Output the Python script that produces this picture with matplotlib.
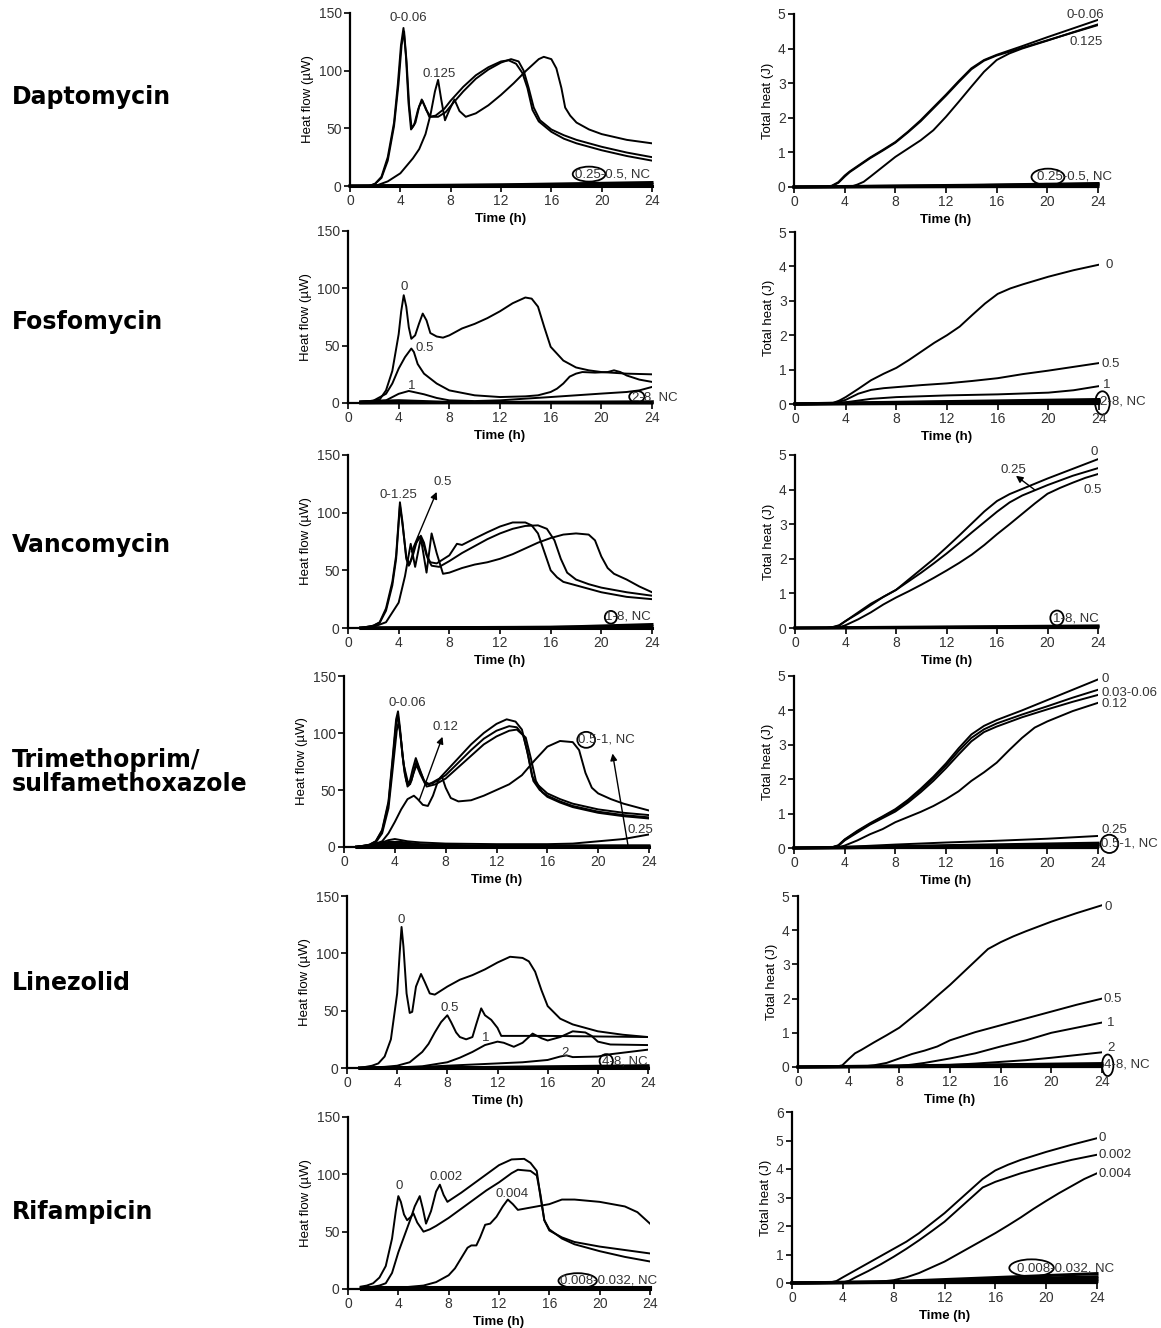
import matplotlib
matplotlib.use('Agg')
import matplotlib.pyplot as plt
from matplotlib.patches import Ellipse

plt.rcParams['font.family'] = ['Liberation Sans', 'DejaVu Sans']

W, H = 1161, 1328

drugs = ['Daptomycin', 'Fosfomycin', 'Vancomycin',
         'Trimethoprim/\nsulfamethoxazole', 'Linezolid', 'Rifampicin']
time_ticks = [0, 4, 8, 12, 16, 20, 24]

# ---- Daptomycin ----
dap_hf_1 = [(0,0),(1.5,0),(2,2),(2.5,8),(3,25),(3.5,55),(3.8,88),(4.05,122),(4.25,137),(4.45,112),(4.65,72),(4.85,49),(5.1,53),(5.4,66),(5.7,75),(6.0,68),(6.3,60),(6.8,61),(7.5,67),(8,74),(9,86),(10,96),(11,103),(12,108),(12.6,109),(13.2,106),(13.7,98),(14.1,85),(14.5,66),(15,56),(16,47),(17,41),(18,37),(20,31),(22,26),(24,22)]
dap_hf_2 = [(0,0),(1.6,0),(2,2),(2.5,7),(3,22),(3.5,52),(3.85,88),(4.1,122),(4.3,134),(4.5,107),(4.7,70),(4.9,50),(5.2,55),(5.5,69),(5.75,74),(6.05,66),(6.4,60),(7.0,60),(7.6,64),(8.2,72),(9,82),(10,93),(11,101),(12,107),(12.8,110),(13.4,108),(13.8,100),(14.2,85),(14.6,68),(15.1,57),(16,49),(17,44),(18,40),(20,34),(22,29),(24,25)]
dap_hf_0125 = [(0,0),(2,0),(3,4),(4,11),(5,24),(5.5,32),(6,45),(6.4,62),(6.75,82),(7.0,92),(7.25,75),(7.55,57),(7.9,66),(8.3,75),(8.7,65),(9.2,60),(10,63),(11,70),(12,79),(13,89),(14,100),(15,110),(15.4,112),(16,110),(16.4,102),(16.8,85),(17.1,68),(17.5,61),(18,55),(19,49),(20,45),(22,40),(24,37)]
dap_hf_low = [[(0,0),(24,0)], [(0,0),(10,0.5),(24,1.5)], [(0,0),(12,1),(24,3)]]
dap_th_1 = [(0,0),(2.5,0),(3,0.04),(3.5,0.14),(4,0.33),(4.4,0.45),(5,0.6),(6,0.85),(7,1.07),(8,1.3),(9,1.6),(10,1.93),(11,2.3),(12,2.67),(13,3.06),(14,3.43),(15,3.67),(16,3.82),(18,4.07),(20,4.33),(22,4.58),(24,4.83)]
dap_th_2 = [(0,0),(2.6,0),(3,0.03),(3.5,0.12),(4,0.3),(4.4,0.43),(5,0.58),(6,0.83),(7,1.05),(8,1.28),(9,1.58),(10,1.9),(11,2.27),(12,2.64),(13,3.03),(14,3.4),(15,3.65),(16,3.8),(18,4.02),(20,4.24),(22,4.46),(24,4.68)]
dap_th_0125 = [(0,0),(4,0),(4.5,0.01),(5,0.07),(5.5,0.15),(6,0.29),(7,0.58),(8,0.87),(9,1.11),(10,1.35),(11,1.64),(12,2.03),(13,2.46),(14,2.9),(15,3.33),(16,3.67),(17,3.86),(18,4.0),(20,4.23),(22,4.47),(24,4.7)]
dap_th_low = [[(0,0),(24,0.02)], [(0,0),(12,0.03),(24,0.08)], [(0,0),(14,0.05),(24,0.1)]]

# ---- Fosfomycin ----
fos_hf_0 = [(1,1),(2,2),(2.5,3),(3,11),(3.5,28),(4,60),(4.2,80),(4.4,94),(4.6,84),(4.8,66),(5.0,56),(5.3,59),(5.6,69),(5.9,78),(6.2,72),(6.5,61),(7,58),(7.5,57),(8,59),(9,65),(10,69),(11,74),(12,80),(13,87),(14,92),(14.5,91),(15,84),(15.5,66),(16,49),(17,37),(18,31),(19,28.5),(20,27),(22,25.6),(24,25)]
fos_hf_05 = [(1,1),(2,2),(3,8),(3.5,17),(4,30),(4.5,40),(5,47.5),(5.2,44.5),(5.5,34),(6,25.6),(7,17),(8,11),(10,6.7),(12,5.2),(14,5.8),(15,6.7),(16,9.6),(16.5,12.5),(17,17),(17.5,23),(18,25.6),(18.5,27),(19.5,26.5),(20.5,27),(21,28.5),(21.5,27),(22,24),(23,20.4),(24,18.4)]
fos_hf_1 = [(1,1),(2,1.5),(3,2.3),(4,8),(4.8,10.5),(6,7.6),(7,4.4),(8,2.3),(10,1.7),(12,2.3),(14,3.8),(16,5.2),(18,6.7),(20,8.2),(22,9.6),(23,11),(24,14)]
fos_hf_low = [[(1,1),(4,2),(8,0.5),(24,0.5)], [(1,0.5),(24,0)], [(1,0),(24,1)]]
fos_th_0 = [(0,0),(2.5,0),(3,0.03),(3.5,0.1),(4,0.2),(5,0.44),(6,0.69),(7,0.88),(8,1.05),(9,1.28),(10,1.53),(11,1.78),(12,2.0),(13,2.25),(14,2.59),(15,2.92),(16,3.2),(17,3.36),(18,3.48),(20,3.7),(22,3.89),(24,4.05)]
fos_th_05 = [(0,0),(2.5,0),(3,0.02),(4,0.12),(5,0.3),(6,0.41),(7,0.46),(8,0.49),(10,0.55),(12,0.6),(14,0.67),(16,0.75),(18,0.87),(20,0.97),(22,1.08),(24,1.19)]
fos_th_1 = [(0,0),(3,0),(4,0.05),(5,0.1),(6,0.15),(8,0.2),(12,0.25),(16,0.28),(20,0.33),(22,0.4),(24,0.52)]
fos_th_low = [[(0,0),(4,0.03),(24,0.13)], [(0,0),(4,0.02),(24,0.1)], [(0,0),(24,0.07)], [(0,0),(24,0.04)]]

# ---- Vancomycin ----
van_hf_1 = [(1,0),(2,2),(2.5,5),(3,17),(3.5,40),(3.8,63),(4.1,109),(4.3,92),(4.6,60),(4.8,54),(5.0,60),(5.3,72),(5.6,79),(5.9,75),(6.2,63),(6.5,57),(7,56),(8,63),(8.6,73),(9,72),(10,77.6),(11,83),(12,88),(13,91.5),(14,91.5),(14.5,89),(15,82),(15.5,66),(16,50),(16.5,44),(17,40),(18,37),(20,31),(22,27),(24,25)]
van_hf_2 = [(1,0),(2,2),(2.5,4.5),(3,15),(3.5,37),(3.8,60),(4.1,106),(4.3,90),(4.6,62),(4.85,55),(5.1,62),(5.4,74),(5.75,80),(6.0,74),(6.3,60),(6.6,54),(7.2,53),(8,58),(9,65),(10,71),(11,77),(12,82),(13,86),(14,88.5),(15,89),(15.7,86),(16.3,76),(16.8,60),(17.3,48),(18,42),(19,38),(20,35),(22,31),(24,28)]
van_hf_05 = [(1,0),(2,1),(3,5),(4,22),(4.5,45),(4.95,73),(5.3,53),(5.75,78),(6.2,48),(6.6,82),(7.0,65),(7.5,47),(8,48),(9,52),(10,55),(11,57),(12,60),(13,64),(14,69),(15,74),(16,78),(17,81),(18,82),(19,81),(19.5,76),(20,62),(20.5,52),(21,47),(22,42),(23,36),(24,31)]
van_hf_low = [[(1,0),(24,0)], [(1,0),(16,0.5),(24,3)], [(1,0),(24,1)]]
van_th_0 = [(0,0),(2.5,0),(3,0.03),(3.5,0.08),(4,0.2),(5,0.45),(6,0.7),(7,0.9),(8,1.1),(9,1.4),(10,1.7),(11,2.0),(12,2.33),(13,2.67),(14,3.02),(15,3.37),(16,3.67),(17,3.87),(18,4.02),(20,4.32),(22,4.6),(24,4.88)]
van_th_025 = [(0,0),(2.5,0),(3,0.02),(3.5,0.07),(4,0.2),(5,0.42),(6,0.66),(7,0.9),(8,1.1),(9,1.35),(10,1.6),(11,1.87),(12,2.15),(13,2.45),(14,2.76),(15,3.06),(16,3.36),(17,3.63),(18,3.83),(20,4.13),(22,4.4),(24,4.62)]
van_th_05 = [(0,0),(3,0),(3.5,0.02),(4,0.08),(5,0.25),(6,0.45),(7,0.68),(8,0.88),(9,1.06),(10,1.25),(11,1.45),(12,1.66),(13,1.88),(14,2.12),(15,2.4),(16,2.71),(17,3.0),(18,3.3),(19,3.6),(20,3.88),(21,4.05),(22,4.2),(23,4.34),(24,4.45)]
van_th_low = [[(0,0),(24,0.03)], [(0,0),(24,0.06)]]

# ---- Trimethoprim/sulfamethoxazole ----
tmp_hf_1 = [(1,0),(2,2),(2.5,5),(3,15),(3.5,40),(3.8,75),(4.1,112),(4.25,119),(4.4,105),(4.6,80),(4.9,58),(5.1,54),(5.4,68),(5.65,78),(5.9,70),(6.3,58),(6.7,55),(7.5,60),(8,66),(9,78),(10,90),(11,100),(12,108),(12.8,112),(13.5,110),(14.0,103),(14.4,85),(14.8,62),(15.2,55),(16,47),(17,42),(18,38),(20,33),(22,30),(24,28)]
tmp_hf_2 = [(1,0),(2,2),(2.5,5),(3,14),(3.5,38),(3.8,72),(4.1,108),(4.25,115),(4.45,98),(4.7,72),(5.0,58),(5.2,55),(5.45,64),(5.7,72),(6.0,64),(6.4,55),(7,56),(8,63),(9,74),(10,85),(11,95),(12,102),(13,106),(13.6,105),(14.1,98),(14.5,80),(14.9,58),(15.4,50),(16,45),(17,40),(18,36),(20,31),(22,28),(24,26)]
tmp_hf_3 = [(1,0),(2,1.5),(2.5,4),(3,12),(3.5,34),(3.8,65),(4.15,102),(4.3,110),(4.5,92),(4.75,66),(5.0,53),(5.3,58),(5.7,75),(6.0,66),(6.5,53),(7.2,55),(8,60),(9,70),(10,80),(11,90),(12,97),(13,102),(13.6,103),(14.3,96),(14.7,78),(15.1,58),(15.6,48),(16,44),(17,39),(18,35),(20,30),(22,27),(24,25)]
tmp_hf_012 = [(1,0),(2,1),(3,5),(3.5,12),(4,22),(4.5,33),(5,42),(5.5,45),(5.8,42),(6.2,37),(6.6,36),(7.0,45),(7.4,58),(7.7,62),(8.0,52),(8.4,43),(9,40),(10,41),(11,45),(12,50),(13,55),(14,63),(15,76),(16,88),(17,93),(18,92),(18.5,85),(19,65),(19.5,52),(20,47),(21,42),(22,38),(23,35),(24,32)]
tmp_hf_025 = [(1,0),(2,1),(3,4),(3.5,6),(4,7),(4.5,6),(5,5),(6,4),(8,3),(12,2.5),(16,2.5),(18,3),(20,5),(22,7),(24,11)]
tmp_hf_low = [[(1,0),(2,1),(3.5,4),(4.5,4),(6,2),(10,1),(24,1)], [(1,0),(2,0.5),(3.5,2),(5,2),(8,0.5),(24,0.5)], [(1,0),(24,0)]]
tmp_th_0 = [(0,0),(2.5,0),(3,0.02),(3.5,0.08),(4,0.25),(5,0.5),(6,0.72),(7,0.92),(8,1.13),(9,1.4),(10,1.72),(11,2.07),(12,2.46),(13,2.9),(14,3.3),(15,3.55),(16,3.72),(18,4.0),(20,4.3),(22,4.6),(24,4.9)]
tmp_th_003 = [(0,0),(2.5,0),(3,0.02),(3.5,0.07),(4,0.24),(5,0.48),(6,0.7),(7,0.9),(8,1.1),(9,1.37),(10,1.68),(11,2.02),(12,2.4),(13,2.82),(14,3.2),(15,3.45),(16,3.62),(18,3.88),(20,4.12),(22,4.37),(24,4.6)]
tmp_th_006 = [(0,0),(2.5,0),(3,0.02),(3.5,0.06),(4,0.22),(5,0.45),(6,0.68),(7,0.87),(8,1.06),(9,1.32),(10,1.62),(11,1.95),(12,2.32),(13,2.72),(14,3.1),(15,3.37),(16,3.53),(18,3.8),(20,4.03),(22,4.25),(24,4.45)]
tmp_th_012 = [(0,0),(3,0),(3.5,0.02),(4,0.07),(5,0.22),(6,0.4),(7,0.55),(8,0.75),(9,0.9),(10,1.05),(11,1.22),(12,1.42),(13,1.65),(14,1.95),(15,2.2),(16,2.48),(17,2.85),(18,3.2),(19,3.5),(20,3.68),(22,3.98),(24,4.22)]
tmp_th_025 = [(0,0),(3,0),(4,0.03),(8,0.1),(12,0.16),(16,0.21),(20,0.27),(24,0.35)]
tmp_th_low = [[(0,0),(4,0.02),(24,0.14)], [(0,0),(4,0.01),(24,0.1)], [(0,0),(24,0.05)]]

# ---- Linezolid ----
lin_hf_0 = [(1,0),(2,2),(2.5,4),(3,10),(3.5,25),(4,65),(4.2,100),(4.35,123),(4.5,106),(4.75,65),(5.0,48),(5.2,49),(5.5,71),(5.9,82),(6.2,75),(6.6,65),(7,64),(8,71),(9,77),(10,81),(11,86),(12,92),(13,97),(14,96),(14.5,93),(15,84),(15.5,68),(16,54),(17,43),(18,38),(20,32),(22,29),(24,27)]
lin_hf_05 = [(1,0),(3,1),(4,2),(5,5),(6,14),(6.5,21),(7,31),(7.5,40),(8,46),(8.3,40),(8.7,31),(9,27),(9.5,25),(10,27),(10.3,38),(10.7,52),(11,46),(11.5,42),(12,35),(12.3,28),(13,28),(16,28),(20,27.5),(24,27)]
lin_hf_1 = [(1,0),(4,0.5),(6,1.5),(8,5),(9,9),(10,14),(11,20),(12,23),(12.5,22),(13.3,18.5),(14,22),(14.8,30),(15.5,26),(16,24),(17,27),(18,32),(19,31),(19.5,28),(20,23),(21,20.5),(24,20)]
lin_hf_2 = [(1,0),(6,1),(8,2),(10,3),(12,4),(14,5),(16,7),(17,10),(17.5,11),(18,9.5),(20,10),(21,12),(24,16)]
lin_hf_low = [[(1,0),(24,0)], [(1,0),(24,1)], [(1,0),(12,0.5),(24,2)]]
lin_th_0 = [(0,0),(3,0.01),(3.5,0.05),(4,0.23),(4.5,0.4),(5,0.5),(6,0.72),(7,0.93),(8,1.15),(9,1.45),(10,1.75),(11,2.08),(12,2.4),(13,2.75),(14,3.1),(15,3.45),(16,3.65),(17,3.82),(18,3.97),(20,4.25),(22,4.5),(24,4.73)]
lin_th_05 = [(0,0),(5,0.01),(6,0.05),(7,0.12),(8,0.25),(9,0.38),(10,0.48),(11,0.6),(12,0.78),(13,0.9),(14,1.02),(16,1.22),(18,1.42),(20,1.62),(22,1.82),(24,2.0)]
lin_th_1 = [(0,0),(7,0),(8,0.03),(9,0.07),(10,0.12),(12,0.25),(14,0.4),(16,0.6),(18,0.78),(20,1.0),(22,1.15),(24,1.3)]
lin_th_2 = [(0,0),(9,0),(10,0.02),(14,0.1),(18,0.2),(20,0.27),(22,0.35),(24,0.43)]
lin_th_low = [[(0,0),(24,0.1)], [(0,0),(24,0.06)], [(0,0),(24,0.03)]]

# ---- Rifampicin ----
rif_hf_0 = [(1,2),(1.5,3),(2,5),(2.5,10),(3,20),(3.5,44),(3.8,68),(4.0,81),(4.2,76),(4.45,65),(4.7,60),(5.0,63),(5.2,66),(5.5,58),(6.0,50),(6.5,52),(7,55),(8,62),(9,70),(10,78),(11,86),(12,93),(13,101),(13.5,104),(14.5,103),(15,99),(15.3,82),(15.6,60),(16,51),(17,45),(18,41),(20,37),(22,34),(24,31)]
rif_hf_0002 = [(1,1),(2,2),(2.5,3),(3,5),(3.5,14),(4,32),(4.5,47),(5,62),(5.3,72),(5.7,81),(5.95,70),(6.2,57),(6.6,68),(7.0,85),(7.3,91),(7.6,82),(7.9,76),(9,84),(10,92),(11,100),(12,108),(13,113),(14,113.5),(14.5,110),(15,103),(15.3,80),(15.6,60),(16,52),(17,44),(18,39),(20,33),(22,28),(24,24)]
rif_hf_0004 = [(1,0),(4,1),(5,2),(6,3),(7,6),(8,12),(8.5,18),(9,27),(9.5,36),(9.8,38),(10.2,38),(10.5,45),(10.9,56),(11.3,57),(11.8,63),(12.3,72),(12.7,78),(13.1,74),(13.5,69),(14,70),(15,72),(16,74),(17,78),(18,78),(20,76),(22,72),(23,67),(24,57)]
rif_hf_low = [[(1,2),(24,2)], [(1,1),(24,1)], [(1,0),(24,0)]]
rif_th_0 = [(0,0),(2,0),(3,0.02),(3.5,0.07),(4,0.2),(5,0.45),(6,0.7),(7,0.95),(8,1.2),(9,1.45),(10,1.75),(11,2.1),(12,2.45),(13,2.85),(14,3.25),(15,3.65),(16,3.95),(17,4.15),(18,4.32),(20,4.6),(22,4.85),(24,5.08)]
rif_th_0002 = [(0,0),(3.5,0),(4,0.02),(4.5,0.08),(5,0.2),(6,0.42),(7,0.66),(8,0.92),(9,1.2),(10,1.5),(11,1.82),(12,2.15),(13,2.55),(14,2.95),(15,3.35),(16,3.55),(17,3.7),(18,3.85),(20,4.1),(22,4.32),(24,4.5)]
rif_th_0004 = [(0,0),(6,0),(7,0.05),(8,0.1),(9,0.2),(10,0.35),(11,0.55),(12,0.75),(13,1.0),(14,1.25),(15,1.5),(16,1.75),(17,2.02),(18,2.3),(19,2.6),(20,2.88),(21,3.15),(22,3.4),(23,3.65),(24,3.85)]
rif_th_low = [[(0,0),(8,0.05),(24,0.33)], [(0,0),(8,0.04),(24,0.22)], [(0,0),(10,0.03),(24,0.14)], [(0,0),(24,0.06)]]


def rect(x0, x1, ytop, ybot):
    return [x0 / W, 1 - ybot / H, (x1 - x0) / W, (ybot - ytop) / H]


def setup(ax, ymax, ystep, ylabel):
    ax.set_xlim(0, 24)
    ax.set_ylim(0, ymax)
    ax.set_xticks(time_ticks)
    ax.set_yticks(range(0, ymax + 1, ystep))
    for s in ['top', 'right']:
        ax.spines[s].set_visible(False)
    for s in ['left', 'bottom']:
        ax.spines[s].set_linewidth(1.6)
    ax.tick_params(direction='out', length=4, width=1.2, pad=2,
                   labelsize=10, labelcolor='#333333')
    ax.set_xlabel('Time (h)', fontsize=9.5, fontweight='bold', labelpad=3.5)
    ax.set_ylabel(ylabel, fontsize=9.5, labelpad=3)


def draw(ax, curves, low):
    for pts in curves:
        t, v = zip(*pts)
        ax.plot(t, v, color='black', lw=1.4, solid_joinstyle='round')
    for pts in low:
        t, v = zip(*pts)
        ax.plot(t, v, color='black', lw=2.2, clip_on=False)


def label(ax, x, y, s, ha='center'):
    ax.text(x, y, s, fontsize=9.5, color='#333333', ha=ha, va='center', clip_on=False)


def ring(ax, cx, cy, w, h):
    ax.add_patch(Ellipse((cx, cy), w, h, fill=False, ec='black', lw=1.3, clip_on=False))


def arrow(ax, tail, head):
    ax.annotate('', xy=head, xytext=tail,
                arrowprops=dict(arrowstyle='-|>', color='black', lw=1.0,
                                mutation_scale=10, shrinkA=0, shrinkB=0))


fig = plt.figure(figsize=(W / 100, H / 100), dpi=100)

left_px = [(350, 652, 13, 186), (348, 652, 231, 403), (348, 652, 455, 628),
           (344, 649, 676, 847), (347, 648, 896, 1068), (348, 650, 1117, 1289)]
right_px = [(794, 1098, 14, 187), (795, 1099, 232, 404), (795, 1098, 455, 628),
            (794, 1098, 676, 848), (798, 1102, 896, 1067), (792, 1097, 1112, 1283)]
name_y = [97, 322, 545, 772, 983, 1212]

axL = [fig.add_axes(rect(*p)) for p in left_px]
axR = [fig.add_axes(rect(*p)) for p in right_px]

for i, name in enumerate(drugs):
    fig.text(12 / W, 1 - name_y[i] / H, name, fontsize=17, fontweight='bold',
             family='DejaVu Sans', ha='left', va='center', linespacing=1.05)
    setup(axL[i], 150, 50, 'Heat flow (\u00b5W)')
    setup(axR[i], 6 if i == 5 else 5, 1, 'Total heat (J)')

# Daptomycin
ax = axL[0]
draw(ax, [dap_hf_1, dap_hf_2, dap_hf_0125], dap_hf_low)
label(ax, 4.6, 146, '0-0.06')
label(ax, 7.1, 97, '0.125')
label(ax, 17.9, 10, '0.25-0.5, NC', 'left')
ring(ax, 19.0, 10.3, 2.6, 13)
ax = axR[0]
draw(ax, [dap_th_1, dap_th_2, dap_th_0125], dap_th_low)
label(ax, 23.0, 4.98, '0-0.06')
label(ax, 23.1, 4.2, '0.125')
label(ax, 19.2, 0.29, '0.25-0.5, NC', 'left')
ring(ax, 20.05, 0.29, 2.6, 0.48)

# Fosfomycin
ax = axL[1]
draw(ax, [fos_hf_0, fos_hf_05, fos_hf_1], fos_hf_low)
label(ax, 4.43, 101, '0')
label(ax, 5.3, 48, '0.5', 'left')
label(ax, 5.0, 15, '1')
label(ax, 22.4, 5.2, '2-8, NC', 'left')
ring(ax, 22.8, 5.5, 1.2, 10)
ax = axR[1]
draw(ax, [fos_th_0, fos_th_05, fos_th_1], fos_th_low)
label(ax, 24.5, 4.05, '0', 'left')
label(ax, 24.2, 1.17, '0.5', 'left')
label(ax, 24.3, 0.56, '1', 'left')
label(ax, 24.05, 0.08, '2-8, NC', 'left')
ring(ax, 24.27, 0.03, 1.15, 0.68)

# Vancomycin
ax = axL[2]
draw(ax, [van_hf_1, van_hf_2, van_hf_05], van_hf_low)
label(ax, 4.0, 115, '0-1.25')
label(ax, 7.45, 127, '0.5')
arrow(ax, (5.0, 66), (7.0, 118))
label(ax, 20.3, 9.6, '1-8, NC', 'left')
ring(ax, 20.75, 9.3, 0.95, 11)
ax = axR[2]
draw(ax, [van_th_0, van_th_025, van_th_05], van_th_low)
label(ax, 23.7, 5.1, '0')
label(ax, 17.3, 4.57, '0.25')
arrow(ax, (19.0, 3.99), (17.5, 4.4))
label(ax, 23.6, 4.0, '0.5')
label(ax, 20.4, 0.27, '1-8, NC', 'left')
ring(ax, 20.75, 0.29, 1.05, 0.43)

# Trimethoprim/sulfamethoxazole
ax = axL[3]
draw(ax, [tmp_hf_1, tmp_hf_2, tmp_hf_3, tmp_hf_012, tmp_hf_025], tmp_hf_low)
label(ax, 5.0, 126, '0-0.06')
label(ax, 7.95, 105, '0.12')
arrow(ax, (5.92, 41), (7.75, 96.7))
label(ax, 18.45, 94.7, '0.5-1, NC', 'left')
ring(ax, 19.06, 94, 1.4, 14)
arrow(ax, (22.36, 0.6), (21.13, 82))
label(ax, 23.35, 14.6, '0.25')
ax = axR[3]
draw(ax, [tmp_th_0, tmp_th_003, tmp_th_006, tmp_th_012, tmp_th_025], tmp_th_low)
label(ax, 24.26, 4.92, '0', 'left')
label(ax, 24.26, 4.52, '0.03-0.06', 'left')
label(ax, 24.26, 4.2, '0.12', 'left')
label(ax, 24.26, 0.53, '0.25', 'left')
label(ax, 24.26, 0.12, '0.5-1, NC', 'left')
ring(ax, 24.9, 0.12, 1.4, 0.53)

# Linezolid
ax = axL[4]
draw(ax, [lin_hf_0, lin_hf_05, lin_hf_1, lin_hf_2], lin_hf_low)
label(ax, 4.35, 129.5, '0')
label(ax, 8.2, 52, '0.5')
label(ax, 11.05, 26, '1')
label(ax, 17.35, 13, '2')
label(ax, 20.3, 5.8, '4-8, NC', 'left')
ring(ax, 20.67, 6.1, 1.06, 12)
ax = axR[4]
draw(ax, [lin_th_0, lin_th_05, lin_th_1, lin_th_2], lin_th_low)
label(ax, 24.2, 4.68, '0', 'left')
label(ax, 24.1, 1.99, '0.5', 'left')
label(ax, 24.4, 1.28, '1', 'left')
label(ax, 24.4, 0.55, '2', 'left')
label(ax, 24.15, 0.07, '4-8, NC', 'left')
ring(ax, 24.45, 0.05, 0.9, 0.63)

# Rifampicin
ax = axL[5]
draw(ax, [rif_hf_0, rif_hf_0002, rif_hf_0004], rif_hf_low)
label(ax, 4.06, 90, '0')
label(ax, 7.77, 97.5, '0.002')
label(ax, 13.0, 83, '0.004')
label(ax, 16.84, 7.2, '0.008-0.032, NC', 'left')
ring(ax, 18.25, 7.2, 3.05, 13.2)
ax = axR[5]
draw(ax, [rif_th_0, rif_th_0002, rif_th_0004], rif_th_low)
label(ax, 24.1, 5.09, '0', 'left')
label(ax, 24.1, 4.49, '0.002', 'left')
label(ax, 24.1, 3.82, '0.004', 'left')
label(ax, 17.7, 0.52, '0.008-0.032, NC', 'left')
ring(ax, 18.85, 0.53, 3.5, 0.6)

fig.savefig('out.png', dpi=100)
